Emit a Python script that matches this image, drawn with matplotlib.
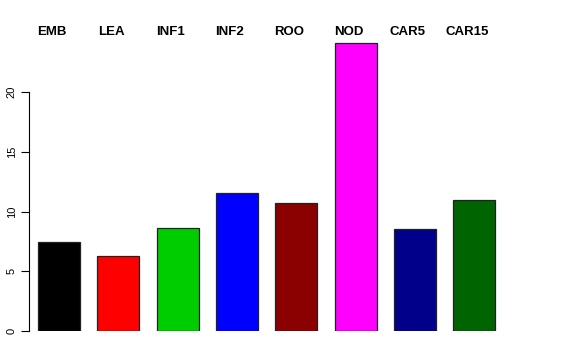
import numpy as np
import matplotlib
matplotlib.use('Agg')
import matplotlib.pyplot as plt

# dados
tecidos = ['EMB', 'LEA', 'INF1', 'INF2', 'ROO', 'NOD', 'CAR5', 'CAR15']
valores = [7.45, 6.28, 8.62, 11.55, 10.71, 24.1, 8.54, 10.96]
cores = ['#000000', '#FF0000', '#00CD00', '#0000FF', '#8B0000', '#FF00FF', '#00008B', '#006400']

plt.rcParams['font.family'] = ['Liberation Sans', 'DejaVu Sans']

fig = plt.figure(figsize=(5.76, 3.6), dpi=100)
ax = fig.add_axes([29 / 576, 29 / 360, 518 / 576, 311 / 360])

x = np.arange(len(tecidos))
ax.bar(x, valores, width=0.708, color=cores, edgecolor='#222222', linewidth=0.9)

ax.set_xlim(-0.506, 8.229)
ax.set_ylim(0, 26.03)

# rotulos em cima (como mtext do R)
for xi, nome in zip(x, tecidos):
    ax.text(xi - 0.12, 25.0, nome, ha='center', va='center',
            fontsize=9.5, fontweight='bold', clip_on=False)

for s in ['top', 'right', 'bottom']:
    ax.spines[s].set_visible(False)
ax.spines['left'].set_bounds(0, 20)
ax.spines['left'].set_linewidth(0.8)
ax.set_xticks([])
ax.set_yticks([0, 5, 10, 15, 20])
ax.tick_params(axis='y', length=5.8, width=0.8, pad=3, labelsize=8)
for lb in ax.get_yticklabels():
    lb.set_rotation(90)
    lb.set_va('center')

fig.savefig('out.png', dpi=100)
